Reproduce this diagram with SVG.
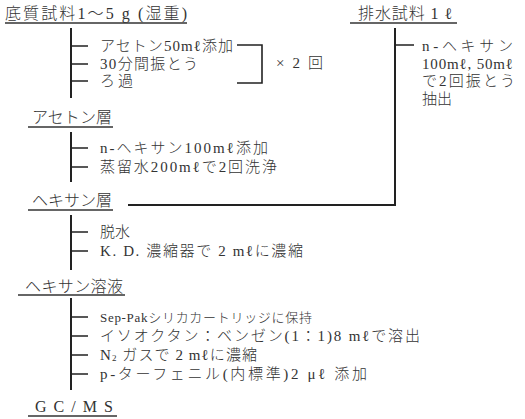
<svg xmlns="http://www.w3.org/2000/svg" width="525" height="419" viewBox="0 0 525 419">
<style>
text{font-family:"Liberation Serif","Noto Sans CJK JP",serif;fill:#333;font-size:15px;font-weight:300;dominant-baseline:central}
.h{font-size:16px}
.s{font-size:13px}
.ul{stroke:#333;stroke-width:1.5;fill:none}
.ln{stroke:#222;stroke-width:2;fill:none}
.tk{stroke:#222;stroke-width:1.6;fill:none}
</style>
<rect width="525" height="419" fill="#fff"/>
<g id="connectors">
<path class="ln" d="M71 28V98M71 132V182M71 215V270M71 298V390M395 28V205H128"/>
<path class="tk" d="M71 46H88M71 64H88M71 81H88M71 148H88M71 167H88M71 232H88M71 251H88M71 317H88M71 336H88M71 355H88M71 374H88M395 45H414"/>
<path class="tk" d="M237 45H262V83H237"/>
</g>
<g id="sediment">
<text class="h" x="5" y="13" textLength="182" lengthAdjust="spacing">底質試料1～5 g (湿重)</text>
<path class="ul" d="M5 23H187"/>
</g>
<g id="steps1">
<text x="100" y="46" textLength="133" lengthAdjust="spacing">アセトン50mℓ添加</text>
<text x="100" y="64" textLength="98" lengthAdjust="spacing">30分間振とう</text>
<text x="100" y="81" textLength="33" lengthAdjust="spacing">ろ過</text>
<text x="276" y="63" textLength="47" lengthAdjust="spacing">× 2 回</text>
</g>
<g id="water">
<text class="h" x="358" y="13" textLength="94" lengthAdjust="spacing">排水試料 1 ℓ</text>
<path class="ul" d="M350 23H457"/>
<text x="422" y="46" textLength="91" lengthAdjust="spacing">n-ヘキサン</text>
<text x="422" y="64" textLength="91" lengthAdjust="spacing">100mℓ, 50mℓ</text>
<text x="422" y="81" textLength="93" lengthAdjust="spacing">で2回振とう</text>
<text x="422" y="99">抽出</text>
</g>
<g id="acetone-layer">
<text class="h" x="32" y="117" textLength="80" lengthAdjust="spacing">アセトン層</text>
<path class="ul" d="M28 127H113"/>
<text x="100" y="148" textLength="168" lengthAdjust="spacing">n-ヘキサン100mℓ添加</text>
<text x="100" y="167" textLength="177" lengthAdjust="spacing">蒸留水200mℓで2回洗浄</text>
</g>
<g id="hexane-layer">
<text class="h" x="32" y="200" textLength="80" lengthAdjust="spacing">ヘキサン層</text>
<path class="ul" d="M28 210H113"/>
<text x="100" y="232">脱水</text>
<text x="100" y="251" textLength="203" lengthAdjust="spacing">K. D. 濃縮器で 2 mℓに濃縮</text>
</g>
<g id="hexane-solution">
<text class="h" x="25" y="286" textLength="98" lengthAdjust="spacing">ヘキサン溶液</text>
<path class="ul" d="M18 295H125"/>
<text class="s" x="100" y="317" textLength="212" lengthAdjust="spacing">Sep-Pakシリカカートリッジに保持</text>
<text x="100" y="336" textLength="320" lengthAdjust="spacing">イソオクタン：ベンゼン(1：1)8 mℓで溶出</text>
<text x="100" y="355" textLength="157" lengthAdjust="spacing">N<tspan font-size="9" dy="3">2</tspan><tspan dy="-3"> ガスで 2 mℓに濃縮</tspan></text>
<text x="100" y="374" textLength="267" lengthAdjust="spacing">p-ターフェニル(内標準)2 μℓ 添加</text>
</g>
<g id="gcms">
<text class="h" x="35" y="406" textLength="78" lengthAdjust="spacing">G C / M S</text>
<path class="ul" d="M28 416H117"/>
</g>
</svg>
